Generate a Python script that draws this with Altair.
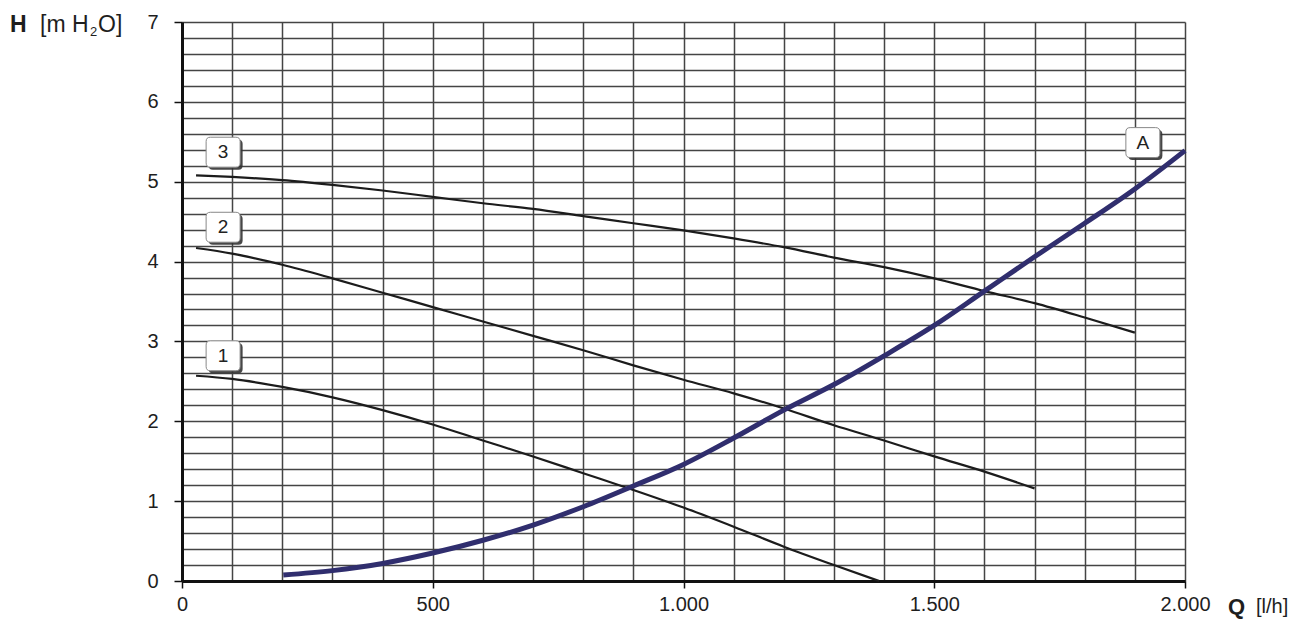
import altair as alt
import pandas as pd

# ---- data ----
q3 = [28, 100, 200, 300, 400, 500, 600, 700, 800, 900, 1000, 1100, 1200, 1300, 1400, 1500, 1600, 1700, 1800, 1900]
h3 = [5.08, 5.06, 5.02, 4.96, 4.89, 4.81, 4.73, 4.66, 4.57, 4.48, 4.39, 4.29, 4.18, 4.05, 3.93, 3.79, 3.63, 3.48, 3.30, 3.11]

q2 = [28, 100, 200, 300, 400, 500, 600, 700, 800, 900, 1000, 1100, 1200, 1300, 1400, 1500, 1600, 1700]
h2 = [4.17, 4.10, 3.96, 3.79, 3.61, 3.43, 3.25, 3.07, 2.89, 2.70, 2.52, 2.35, 2.16, 1.95, 1.76, 1.56, 1.37, 1.16]

q1 = [28, 100, 200, 300, 400, 500, 600, 700, 800, 900, 1000, 1100, 1200, 1300, 1390]
h1 = [2.57, 2.53, 2.43, 2.30, 2.14, 1.96, 1.76, 1.56, 1.35, 1.14, 0.92, 0.68, 0.43, 0.20, 0.0]

qa = [202, 300, 400, 500, 600, 700, 800, 900, 1000, 1100, 1200, 1300, 1400, 1500, 1600, 1700, 1800, 1900, 2000]
ha = [0.075, 0.13, 0.22, 0.35, 0.51, 0.70, 0.93, 1.19, 1.46, 1.79, 2.14, 2.46, 2.82, 3.20, 3.63, 4.06, 4.48, 4.91, 5.39]

label_text = ["1", "2", "3", "A"]
label_q = [82, 82, 82, 1916]
label_h = [2.82, 4.43, 5.37, 5.49]

x_grid = [0, 100, 200, 300, 400, 500, 600, 700, 800, 900, 1000,
          1100, 1200, 1300, 1400, 1500, 1600, 1700, 1800, 1900, 2000]
y_grid = [round(i * 0.2, 1) for i in range(36)]

# ---- tables ----
rows = []
for name, qs, hs in (("1", q1, h1), ("2", q2, h2), ("3", q3, h3)):
    for q, h in zip(qs, hs):
        rows.append({"curve": name, "Q": q, "H": h})
pump = pd.DataFrame(rows)
system = pd.DataFrame({"Q": qa, "H": ha})
labels = pd.DataFrame({"text": label_text, "Q": label_q, "H": label_h})

FONT = "Liberation Sans"

x_scale = alt.Scale(domain=[0, 2000], nice=False, zero=False)
y_scale = alt.Scale(domain=[0, 7], nice=False, zero=False)

x_axis = alt.Axis(
    values=x_grid, tickCount=100, grid=True, gridColor="#444444", gridWidth=1.5,
    domainColor="#111111", domainWidth=3,
    tickColor="#111111", tickWidth=1.5, tickSize=7,
    tickOpacity={"condition": {"test": "datum.value % 500 === 0", "value": 1}, "value": 0},
    labelExpr="datum.value % 500 === 0 ? replace(format(datum.value, ','), ',', '.') : ''",
    labelFont=FONT, labelFontSize=20, labelColor="#1e1e1e", labelPadding=6,
    labelFlush=False, labelOverlap=False, title=None,
)
y_axis = alt.Axis(
    values=y_grid, tickCount=100, grid=True, gridColor="#444444", gridWidth=1.5,
    domainColor="#111111", domainWidth=3,
    tickColor="#111111", tickWidth=1.5, tickSize=8,
    tickOpacity={"condition": {"test": "abs(datum.value - round(datum.value)) < 0.01", "value": 1}, "value": 0},
    labelExpr="abs(datum.value - round(datum.value)) < 0.01 ? format(round(datum.value), 'd') : ''",
    labelFont=FONT, labelFontSize=20, labelColor="#1e1e1e", labelPadding=16,
    labelFlush=False, labelOverlap=False, title=None,
)

curves = alt.Chart(pump).mark_line(color="#1c1c1c", strokeWidth=2.2, interpolate="monotone").encode(
    x=alt.X("Q:Q", scale=x_scale, axis=x_axis),
    y=alt.Y("H:Q", scale=y_scale, axis=y_axis),
    detail="curve:N",
)

sys_line = alt.Chart(system).mark_line(color="#302e6e", strokeWidth=5, interpolate="monotone").encode(
    x="Q:Q", y="H:Q"
)

BOX = ("M -0.75,-0.88 L 0.75,-0.88 Q 1,-0.88 1,-0.63 L 1,0.63 Q 1,0.88 0.75,0.88 "
       "L -0.75,0.88 Q -1,0.88 -1,0.63 L -1,-0.63 Q -1,-0.88 -0.75,-0.88 Z")

shadow = alt.Chart(labels).mark_point(
    shape=BOX, size=1156, filled=True, fill="#333333", opacity=0.9, strokeWidth=0,
    xOffset=2.5, yOffset=2.5,
).encode(x="Q:Q", y="H:Q")

box = alt.Chart(labels).mark_point(
    shape=BOX, size=1156, filled=True, fill="#ffffff", stroke="#888888", strokeWidth=1, opacity=1,
).encode(x="Q:Q", y="H:Q")

box_text = alt.Chart(labels).mark_text(
    font=FONT, fontSize=19, color="#222222", align="center", baseline="middle",
).encode(x="Q:Q", y="H:Q", text="text:N")


def note(txt, px, py, size=21, weight="normal"):
    return alt.Chart(alt.Data(values=[{"t": txt}])).mark_text(
        font=FONT, fontSize=size, fontWeight=weight, color="#1e1e1e",
        align="left", baseline="middle",
    ).encode(x=alt.value(px), y=alt.value(py), text="t:N")


notes = [
    note("H", -172, 3, 23, "bold"),
    note("[m H", -142, 3, 23),
    note("2", -92, 10, 13),
    note("O]", -84, 3, 23),
    note("Q", 1046, 585, 22, "bold"),
    note("[l/h]", 1074, 585, 20),
]

chart = alt.layer(curves, sys_line, shadow, box, box_text, *notes).properties(
    width=1003, height=559,
    autosize=alt.AutoSizeParams(type="none"),
    padding={"left": 174, "top": 14, "right": 111, "bottom": 42},
    background="#ffffff",
).configure_view(stroke=None)

chart.save("out.html", embed_options={"renderer": "svg", "actions": False})
